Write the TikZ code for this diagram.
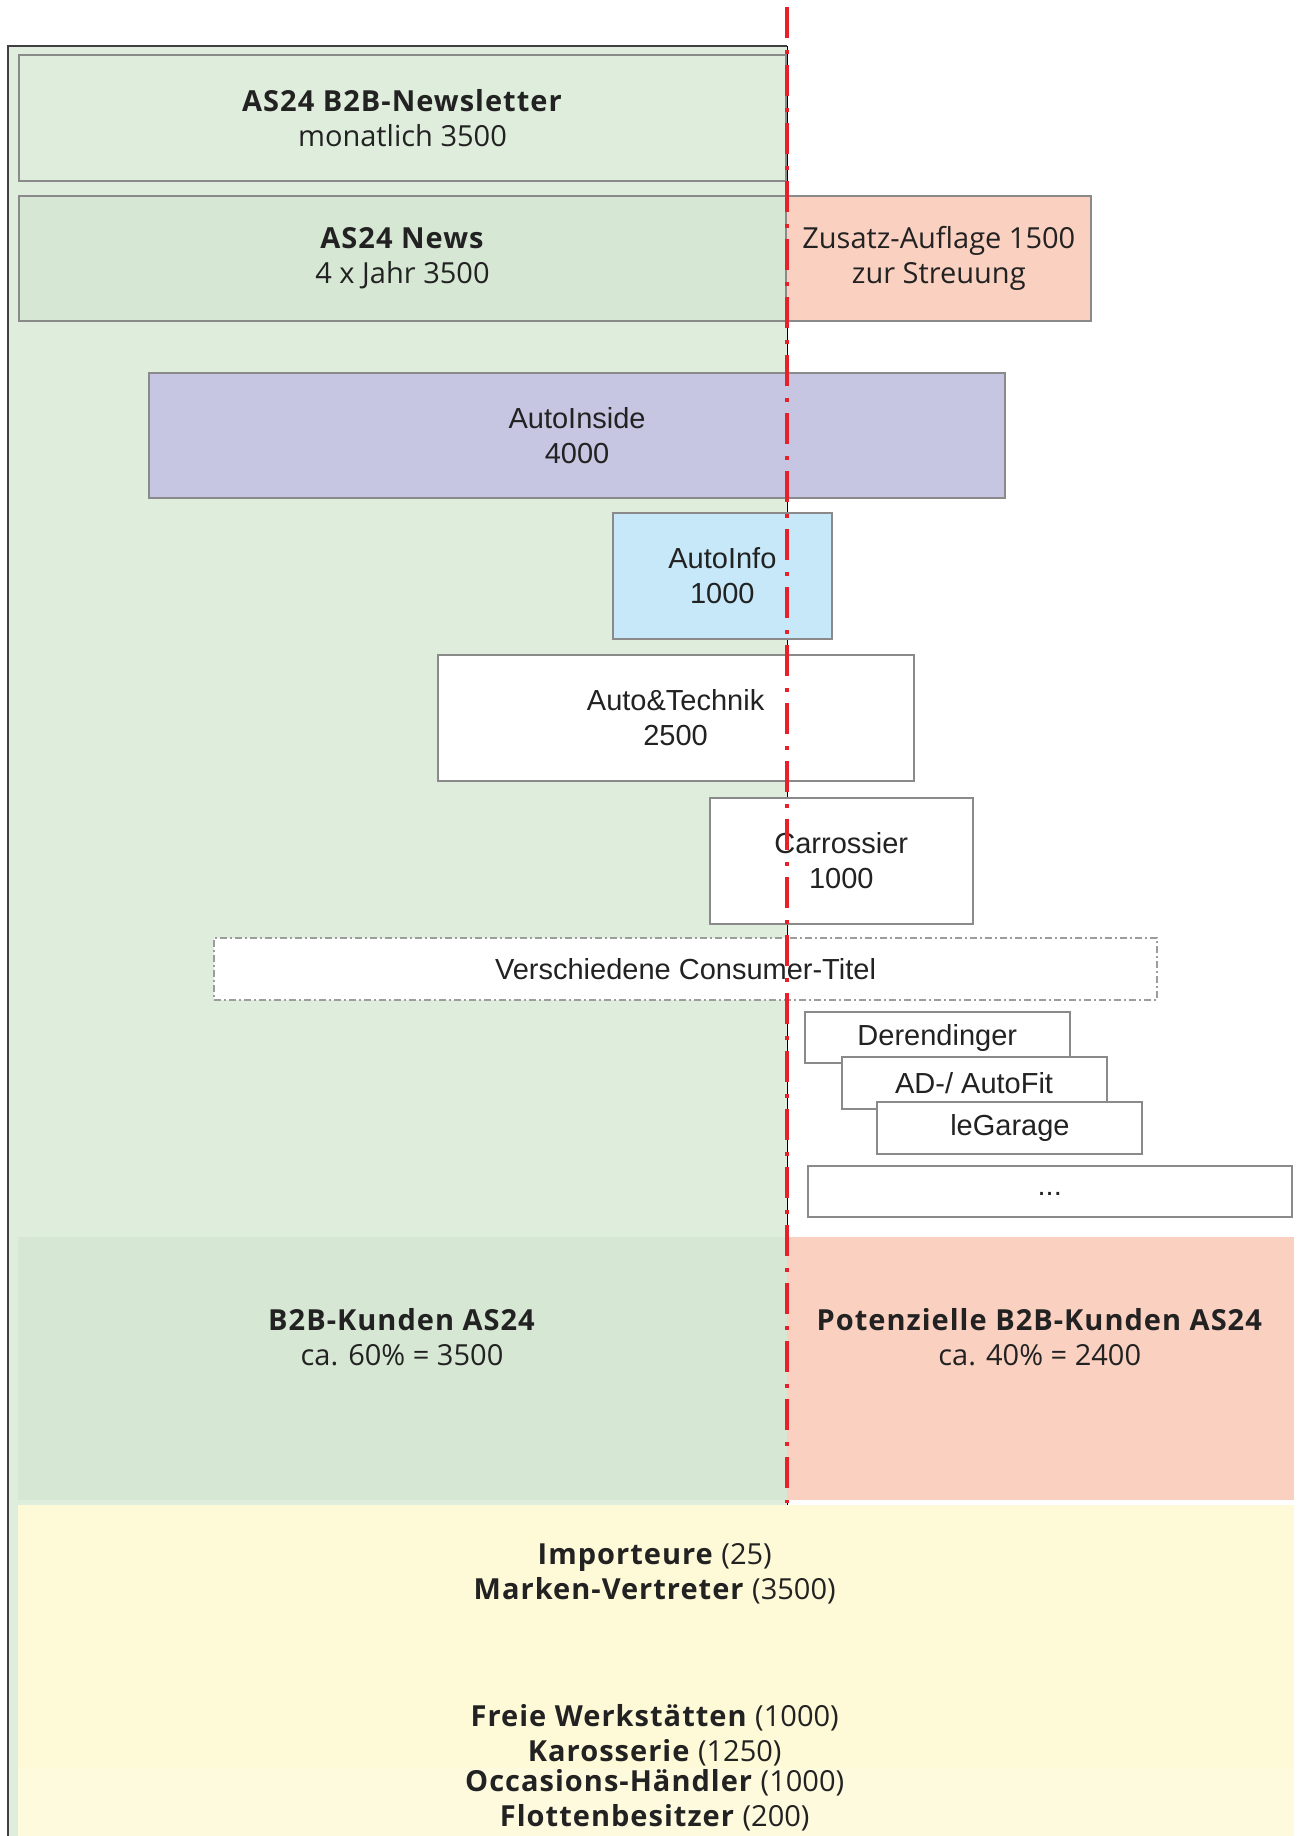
\documentclass[tikz,border=0pt]{standalone}
\usepackage{fontspec}
\setmainfont{Open Sans}
\newfontfamily\arialfont{Liberation Sans}
\newcommand\hb[1]{\textbf{\addfontfeature{LetterSpace=3.5}#1}}

\definecolor{bggreen}{HTML}{DFEDDC}
\definecolor{newsgreen}{HTML}{D6E8D4}
\definecolor{salmon}{HTML}{FAD0C0}
\definecolor{lavender}{HTML}{C6C6E2}
\definecolor{skyblue}{HTML}{C6E8F8}
\definecolor{paleyellow}{HTML}{FEF9D6}
\definecolor{paleyellowb}{HTML}{FEFADD}
\definecolor{boxgray}{HTML}{8A8A8A}
\definecolor{cutred}{HTML}{E8202A}
\definecolor{ink}{HTML}{222222}

\begin{document}
\begin{tikzpicture}[x=1pt,y=1pt,yscale=-1,xscale=0.995,
  pubbox/.style={draw=boxgray,line width=2pt,align=center,inner sep=0pt,text=ink,font=\arialfont\fontsize{29}{35}\selectfont},
  titlebox/.style={pubbox,font=\fontsize{29}{35}\selectfont},
  areatext/.style={align=center,inner sep=0pt,text=ink,font=\fontsize{29}{35}\selectfont}]
\useasboundingbox (0,0) rectangle (1306.5,1836);

%Shape: big green area
\fill[bggreen] (8,46) rectangle (791,1836);
\draw[black!75,line width=1.5pt] (8,1836) -- (8,46) -- (791,46);
\draw[black,line width=0.8pt] (791,46) -- (791,1505);

%Shape: newsletters
\node[titlebox,fill=bggreen,minimum width=767,minimum height=125] (newsletter) at (404.5,118) {\hb{AS24 B2B-Newsletter}\\monatlich 3500};
\node[titlebox,fill=newsgreen,minimum width=767,minimum height=125] (news) at (404.5,258.5) {\hb{AS24 News}\\4 x Jahr 3500};
\node[titlebox,fill=salmon,minimum width=305,minimum height=125] (zusatz) at (943.5,258.5) {Zusatz-Auflage 1500\\zur Streuung};

%Shape: magazines
\node[pubbox,fill=lavender,minimum width=856,minimum height=125] (autoinside) at (580,435.5) {AutoInside\\4000};
\node[pubbox,fill=skyblue,minimum width=219,minimum height=126] (autoinfo) at (726,576) {AutoInfo\\1000};
\node[pubbox,fill=white,minimum width=476,minimum height=126] (technik) at (679,718) {Auto\&Technik\\2500};
\node[pubbox,fill=white,minimum width=263,minimum height=126] (carrossier) at (845.5,861) {Carrossier\\1000};
\node[pubbox,fill=white,draw=boxgray!85,line width=1.5pt,dash pattern=on 7pt off 3pt on 2pt off 3pt,minimum width=943,minimum height=62] (consumer) at (689,969) {Verschiedene Consumer-Titel};

%Shape: partner titles
\node[pubbox,fill=white,minimum width=265,minimum height=51] (derendinger) at (942,1037.5) {Derendinger};
\node[pubbox,fill=white,minimum width=265,minimum height=52] (adautofit) at (979,1083) {AD-/ AutoFit};
\node[pubbox,fill=white,minimum width=265,minimum height=52] (legarage) at (1015,1128) {leGarage};
\node[pubbox,fill=white,minimum width=484,minimum height=51] (weitere) at (1055,1191.5) {\raisebox{-4pt}[0pt][0pt]{...}};

%Shape: customer areas
\fill[newsgreen] (18,1237) rectangle (791,1500);
\fill[salmon] (791,1237) rectangle (1300,1500);
\fill[paleyellow] (18,1505) rectangle (1300,1768);
\fill[paleyellowb] (18,1768) rectangle (1300,1836);

% Text Node
\node[areatext] (kunden) at (404,1337) {\hb{B2B-Kunden AS24}\\ca. 60\% = 3500};
% Text Node
\node[areatext] (potenzielle) at (1045,1337) {\hb{Potenzielle B2B-Kunden AS24}\\ca. 40\% = 2400};
% Text Node
\node[areatext] (importeure) at (658,1573.5) {\hb{Importeure} (25)\\\hb{Marken-Vertreter} (3500)};
% Text Node
\node[areatext] (werkstatt) at (658,1735) {\hb{Freie Werkstätten} (1000)\\\hb{Karosserie} (1250)};
% Text Node
\node[areatext] (occasion) at (658,1800.5) {\hb{Occasions-Händler} (1000)\\\hb{Flottenbesitzer} (200)};

%Straight Lines: cut line
\coordinate (cuttop) at (791,7);
\coordinate (cutbottom) at (791,1503);
\draw[cutred,line width=4pt,dash pattern=on 31pt off 12pt on 4pt off 11pt] (cuttop) -- (cutbottom);

\end{tikzpicture}
\end{document}
